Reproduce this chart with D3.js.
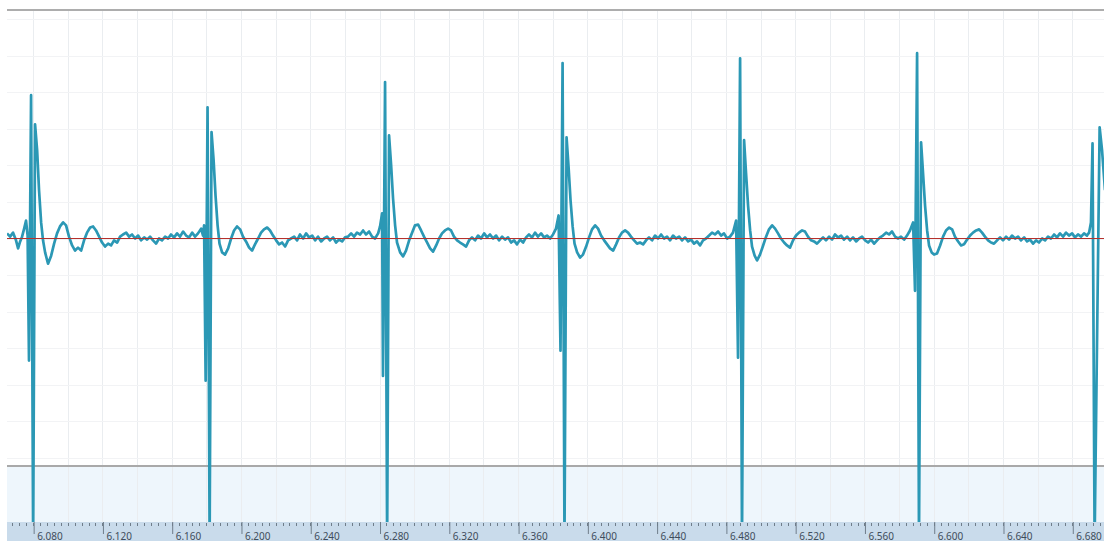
<!DOCTYPE html>
<html>
<head>
<meta charset="utf-8">
<script src="https://cdn.jsdelivr.net/npm/d3@7"></script>
<style>
  html, body { margin: 0; padding: 0; background: #ffffff; }
  svg { display: block; }
</style>
</head>
<body>
<svg id="chart" width="1104" height="541"></svg>
<script>
// ECG trace, time in seconds, amplitude in microvolts.
// Each segment runs from one heartbeat into the quiet stretch before the next one.
const segment1 = [
  [6.0649,14],[6.0667,5],[6.0684,16],[6.0701,-5],[6.0713,-27],[6.0725,-8],[6.0736,5],[6.0748,27],
  [6.0759,49],[6.0768,8],[6.0776,-334],[6.0788,392],[6.0800,-828],[6.0811,312],[6.0823,241],[6.0834,132],
  [6.0846,44],[6.0857,-5],[6.0869,-38],[6.0886,-69],[6.0904,-47],[6.0921,-14],[6.0938,14],[6.0955,33],
  [6.0973,44],[6.0990,36],[6.1007,5],[6.1025,-19],[6.1042,-33],[6.1059,-25],[6.1077,-33],[6.1094,-5],
  [6.1111,16],[6.1129,30],[6.1146,33],[6.1163,22],[6.1181,5],[6.1198,-11],[6.1215,-22],[6.1233,-14],
  [6.1250,-19],[6.1267,-5],[6.1285,-11],[6.1302,5],[6.1319,11],[6.1337,16],[6.1354,5],[6.1371,11],
  [6.1389,0],[6.1406,8],[6.1423,-5],[6.1441,3],[6.1458,-3],[6.1475,5],[6.1492,-5],[6.1510,-14],
  [6.1527,0],[6.1544,-5],[6.1562,5],[6.1579,0],[6.1596,11],[6.1614,3],[6.1631,14],[6.1648,5],
  [6.1666,19],[6.1683,8],[6.1700,3],[6.1718,16],[6.1735,5],[6.1752,14],[6.1770,27],[6.1781,8]
];
const segment2 = [
  [6.1787,36],[6.1796,-389],[6.1807,359],[6.1819,-828],[6.1830,291],[6.1842,214],[6.1853,118],[6.1865,36],
  [6.1876,-14],[6.1891,-38],[6.1908,-44],[6.1926,-27],[6.1943,0],[6.1960,22],[6.1977,33],[6.1995,25],
  [6.2012,5],[6.2029,-8],[6.2047,-25],[6.2064,-33],[6.2081,-16],[6.2099,0],[6.2116,16],[6.2133,25],
  [6.2151,30],[6.2168,22],[6.2185,8],[6.2203,-5],[6.2220,-16],[6.2237,-11],[6.2255,-22],[6.2272,-5],
  [6.2289,0],[6.2307,5],[6.2324,-5],[6.2341,11],[6.2359,0],[6.2376,14],[6.2393,3],[6.2411,8],
  [6.2428,-5],[6.2445,5],[6.2463,-8],[6.2480,0],[6.2497,5],[6.2514,-5],[6.2532,3],[6.2549,-11],
  [6.2566,-3],[6.2584,-8],[6.2601,3],[6.2618,5],[6.2636,14],[6.2653,5],[6.2670,16],[6.2688,11],
  [6.2705,22],[6.2722,11],[6.2740,19],[6.2757,5],[6.2774,0],[6.2792,14],[6.2803,33],[6.2815,69]
];
const segment3 = [
  [6.2820,-376],[6.2832,428],[6.2844,-828],[6.2855,282],[6.2867,200],[6.2878,110],[6.2890,36],[6.2901,-11],
  [6.2919,-38],[6.2936,-49],[6.2953,-33],[6.2971,-5],[6.2988,16],[6.3005,36],[6.3023,38],[6.3040,22],
  [6.3057,5],[6.3075,-11],[6.3092,-27],[6.3109,-36],[6.3127,-19],[6.3144,0],[6.3161,14],[6.3178,22],
  [6.3196,27],[6.3213,22],[6.3230,5],[6.3248,-5],[6.3265,-11],[6.3282,-16],[6.3300,-22],[6.3317,-5],
  [6.3334,3],[6.3352,-5],[6.3369,8],[6.3386,0],[6.3404,14],[6.3421,3],[6.3438,11],[6.3456,0],
  [6.3473,8],[6.3490,-5],[6.3508,5],[6.3525,-3],[6.3542,3],[6.3560,-11],[6.3577,-5],[6.3594,-16],
  [6.3611,-3],[6.3629,-11],[6.3646,3],[6.3663,11],[6.3681,3],[6.3698,16],[6.3715,5],[6.3733,14],
  [6.3750,3],[6.3767,8],[6.3785,0],[6.3802,11],[6.3819,27],[6.3834,63]
];
const segment4 = [
  [6.3845,-307],[6.3857,480],[6.3868,-828],[6.3880,277],[6.3892,192],[6.3903,104],[6.3915,33],[6.3926,-14],
  [6.3941,-38],[6.3958,-52],[6.3975,-44],[6.3993,-22],[6.4010,3],[6.4027,25],[6.4045,36],[6.4062,27],
  [6.4079,8],[6.4097,-5],[6.4114,-16],[6.4131,-27],[6.4149,-33],[6.4166,-16],[6.4183,3],[6.4200,16],
  [6.4218,22],[6.4235,16],[6.4252,5],[6.4270,-5],[6.4287,-14],[6.4304,-11],[6.4322,-16],[6.4339,-5],
  [6.4356,3],[6.4374,-5],[6.4391,8],[6.4408,0],[6.4426,11],[6.4443,0],[6.4460,5],[6.4478,-5],
  [6.4495,8],[6.4512,0],[6.4530,5],[6.4547,-5],[6.4564,3],[6.4582,-8],[6.4599,-3],[6.4616,-14],
  [6.4633,-8],[6.4651,-19],[6.4668,-5],[6.4685,0],[6.4703,8],[6.4720,16],[6.4737,11],[6.4755,19],
  [6.4772,8],[6.4789,14],[6.4807,0],[6.4824,5],[6.4841,16],[6.4859,49]
];
const segment5 = [
  [6.4870,-326],[6.4882,493],[6.4893,-828],[6.4905,269],[6.4916,181],[6.4928,90],[6.4940,22],[6.4951,-22],
  [6.4966,-47],[6.4980,-60],[6.4997,-44],[6.5015,-19],[6.5032,5],[6.5049,25],[6.5067,36],[6.5084,27],
  [6.5101,14],[6.5118,0],[6.5136,-11],[6.5153,-19],[6.5170,-25],[6.5188,-5],[6.5205,8],[6.5222,16],
  [6.5240,22],[6.5257,19],[6.5274,5],[6.5292,-5],[6.5309,-8],[6.5326,-14],[6.5344,-5],[6.5361,3],
  [6.5378,-5],[6.5396,5],[6.5413,-3],[6.5430,11],[6.5448,3],[6.5465,8],[6.5482,-3],[6.5500,5],
  [6.5517,-5],[6.5534,3],[6.5552,-8],[6.5569,0],[6.5586,5],[6.5604,-5],[6.5621,-11],[6.5638,-3],
  [6.5656,-14],[6.5673,-5],[6.5690,3],[6.5707,8],[6.5725,16],[6.5742,11],[6.5759,19],[6.5777,5],
  [6.5794,0],[6.5811,5],[6.5829,-3],[6.5846,8],[6.5863,22],[6.5881,44]
];
const segment6 = [
  [6.5892,-143],[6.5904,507],[6.5915,-828],[6.5927,263],[6.5938,181],[6.5950,90],[6.5962,22],[6.5973,-19],
  [6.5988,-38],[6.6002,-44],[6.6019,-41],[6.6037,-19],[6.6054,5],[6.6071,22],[6.6089,30],[6.6106,25],
  [6.6123,5],[6.6141,-8],[6.6158,-19],[6.6175,-16],[6.6193,-3],[6.6210,8],[6.6227,16],[6.6245,22],
  [6.6262,25],[6.6279,16],[6.6296,5],[6.6314,-5],[6.6331,-11],[6.6348,-14],[6.6366,-5],[6.6383,3],
  [6.6400,-5],[6.6418,5],[6.6435,-3],[6.6452,8],[6.6470,0],[6.6487,5],[6.6504,-5],[6.6522,3],
  [6.6539,-8],[6.6556,-3],[6.6574,-14],[6.6591,-5],[6.6608,-11],[6.6626,0],[6.6643,-5],[6.6660,5],
  [6.6677,0],[6.6695,11],[6.6712,3],[6.6729,14],[6.6747,5],[6.6764,16],[6.6781,8],[6.6799,14],
  [6.6816,3],[6.6833,11],[6.6851,5],[6.6868,14],[6.6885,8],[6.6897,16],[6.6908,44]
];
const segment7 = [
  [6.6917,260],[6.6929,-828],[6.6958,304],[6.6972,241],[6.6989,132]
];

// Time axis: labelled ticks every 40 ms, minor marks every 4 ms, grid every 20 ms.
const tickValues = [6.08, 6.12, 6.16, 6.20, 6.24, 6.28, 6.32, 6.36, 6.40, 6.44, 6.48, 6.52, 6.56, 6.60, 6.64, 6.68];
const timeDomain = [6.0649, 6.6989];
const voltDomain = [-625, 625];

const W = 1104, H = 541;
const plotLeft = 7, plotRight = 1105;
const plotTop = 10, panelBottom = 467, bandBottom = 522;

const svg = d3.select("#chart");

const x = d3.scaleLinear().domain(timeDomain).range([plotLeft, plotRight]);
const y = d3.scaleLinear().domain(voltDomain).range([panelBottom, plotTop]);

// lower panel band
svg.append("rect")
  .attr("x", plotLeft).attr("y", panelBottom)
  .attr("width", W - plotLeft).attr("height", bandBottom - panelBottom)
  .attr("fill", "#eef6fc");

// vertical grid
const gridTimes = d3.range(Math.ceil(timeDomain[0] / 0.02), Math.floor(timeDomain[1] / 0.02) + 1).map(i => +(i * 0.02).toFixed(3));
svg.append("g")
  .selectAll("line")
  .data(gridTimes)
  .join("line")
  .attr("x1", d => Math.round(x(d)) + 0.5).attr("x2", d => Math.round(x(d)) + 0.5)
  .attr("y1", plotTop).attr("y2", bandBottom)
  .attr("stroke", "#eaedf0")
  .attr("stroke-width", 1);

// horizontal grid every 100 µV
const gridVolts = d3.range(-600, 601, 100);
svg.append("g")
  .selectAll("line")
  .data(gridVolts)
  .join("line")
  .attr("x1", plotLeft).attr("x2", W)
  .attr("y1", d => Math.round(y(d)) + 0.5).attr("y2", d => Math.round(y(d)) + 0.5)
  .attr("stroke", "#f2f3f5")
  .attr("stroke-width", 1);

// panel borders
svg.append("line")
  .attr("x1", plotLeft).attr("x2", W)
  .attr("y1", plotTop).attr("y2", plotTop)
  .attr("stroke", "#adadad").attr("stroke-width", 2);
svg.append("line")
  .attr("x1", plotLeft).attr("x2", W)
  .attr("y1", panelBottom - 1).attr("y2", panelBottom - 1)
  .attr("stroke", "#a9a9a9").attr("stroke-width", 2);

// trace
svg.append("defs").append("clipPath").attr("id", "plotClip")
  .append("rect")
  .attr("x", plotLeft).attr("y", plotTop + 1)
  .attr("width", W - plotLeft).attr("height", bandBottom - plotTop - 1);

const allSamples = [].concat(segment1, segment2, segment3, segment4, segment5, segment6, segment7);
const line = d3.line().x(d => x(d[0])).y(d => y(d[1]));

svg.append("path")
  .datum(allSamples)
  .attr("clip-path", "url(#plotClip)")
  .attr("d", line)
  .attr("fill", "none")
  .attr("stroke", "#2b98b5")
  .attr("stroke-width", 2.7)
  .attr("stroke-linejoin", "round");

// zero reference line
svg.append("line")
  .attr("x1", plotLeft).attr("x2", W)
  .attr("y1", y(0)).attr("y2", y(0))
  .attr("stroke", "#b5312c").attr("stroke-width", 1);

// time axis strip
svg.append("rect")
  .attr("x", plotLeft).attr("y", bandBottom)
  .attr("width", W - plotLeft).attr("height", H - bandBottom)
  .attr("fill", "#c9dbeb");

const minorTimes = d3.range(Math.ceil(timeDomain[0] / 0.004), Math.floor(timeDomain[1] / 0.004) + 1).map(i => +(i * 0.004).toFixed(3));
svg.append("g")
  .selectAll("line")
  .data(minorTimes)
  .join("line")
  .attr("x1", d => Math.round(x(d)) + 0.5).attr("x2", d => Math.round(x(d)) + 0.5)
  .attr("y1", bandBottom + 1).attr("y2", bandBottom + 4)
  .attr("stroke", "#6f7d8a").attr("stroke-width", 1);

const axis = d3.axisBottom(x)
  .tickValues(tickValues)
  .tickFormat(d3.format(".3f"))
  .tickSize(12)
  .tickSizeOuter(0);

const axisG = svg.append("g")
  .attr("transform", `translate(0.5,${bandBottom})`)
  .call(axis);
axisG.select(".domain").remove();
axisG.selectAll(".tick line").attr("stroke", "#6f7d8a").attr("stroke-width", 1);
axisG.selectAll(".tick text")
  .attr("text-anchor", "start")
  .attr("x", 3)
  .attr("y", 17.5)
  .attr("dy", 0)
  .attr("fill", "#3f4d5c")
  .style("font-family", "'Noto Sans', 'Open Sans', sans-serif")
  .style("font-size", "10px");
</script>
</body>
</html>
